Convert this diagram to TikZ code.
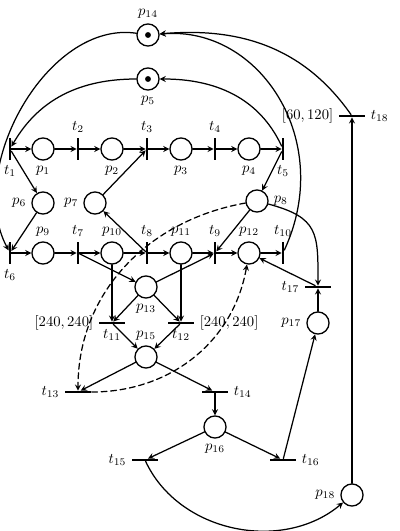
\documentclass[tikz,border=0pt]{standalone}
\usepackage{amsmath,amsfonts,amssymb}
\usepackage{tikz}

\begin{document}
\begin{tikzpicture}[x=0.024cm, y=0.024cm, >=stealth, line join=round, line cap=round,
	place/.style={circle, draw, line width=0.9pt, minimum size=0.53cm, inner sep=0pt},
	vbar/.style={rectangle, fill=black, minimum width=1.5pt, minimum height=0.53cm, inner sep=0pt},
	hbar/.style={rectangle, fill=black, minimum width=0.64cm, minimum height=1.5pt, inner sep=0pt},
	arc/.style={->, line width=0.85pt}]
	\useasboundingbox (0,0) rectangle (400,531);
	\node[place, label=above:$p_{14}$] (p14) at (148,496) {};
	\node[place, label=below:$p_5$] (p5) at (148,452) {};
	\fill (p14) circle (2pt);
	\fill (p5) circle (2pt);
	\node[vbar, label=below:$t_1$] (t1) at (10,382) {};
	\node[place, label=below:$p_1$] (p1) at (43,382) {};
	\node[vbar, label=above:$t_2$] (t2) at (78,382) {};
	\node[place, label=below:$p_2$] (p2) at (112,382) {};
	\node[vbar, label=above:$t_3$] (t3) at (147,382) {};
	\node[place, label=below:$p_3$] (p3) at (181,382) {};
	\node[vbar, label=above:$t_4$] (t4) at (215,382) {};
	\node[place, label=below:$p_4$] (p4) at (249,382) {};
	\node[vbar, label=below:$t_5$] (t5) at (283,382) {};
	\node[place, label=left:$p_6$] (p6) at (43,328) {};
	\node[place, label=left:$p_7$] (p7) at (95,328) {};
	\node[place, label=right:$p_8$] (p8) at (257,330) {};
	\node[vbar, label=below:$t_6$] (t6) at (10,278) {};
	\node[place, label=above:$p_9$] (p9) at (43,278) {};
	\node[vbar, label=above:$t_7$] (t7) at (78,278) {};
	\node[place, label=above:$p_{10}$] (p10) at (112,278) {};
	\node[vbar, label=above:$t_8$] (t8) at (147,278) {};
	\node[place, label=above:$p_{11}$] (p11) at (181,278) {};
	\node[vbar, label=above:$t_9$] (t9) at (215,278) {};
	\node[place, label=above:$p_{12}$] (p12) at (249,278) {};
	\node[vbar, label=above:$t_{10}$] (t10) at (283,278) {};
	\node[place, label=below:$p_{13}$] (p13) at (146,244) {};
	\node[hbar, label=left:{$[240,240]$}, label=below:$t_{11}$] (t11) at (112,208) {};
	\node[hbar, label=right:{$[240,240]$}, label=below:$t_{12}$] (t12) at (181,208) {};
	\node[place, label=above:$p_{15}$] (p15) at (146,174) {};
	\node[hbar, label=left:$t_{13}$] (t13) at (78,139) {};
	\node[hbar, label=right:$t_{14}$] (t14) at (215,139) {};
	\node[place, label=below:$p_{16}$] (p16) at (215,104) {};
	\node[hbar, label=left:$t_{15}$] (t15) at (145,71) {};
	\node[hbar, label=right:$t_{16}$] (t16) at (283,71) {};
	\node[place, label=left:$p_{17}$] (p17) at (318,208) {};
	\node[hbar, label=left:$t_{17}$] (t17) at (318,244) {};
	\node[place, label=left:$p_{18}$] (p18) at (352,36) {};
	\node[hbar, label=left:{$[60,120]$}, label=right:$t_{18}$] (t18) at (352,415) {};
	\foreach \a/\b in {t1/p1,p1/t2,t2/p2,p2/t3,t3/p3,p3/t4,t4/p4,p4/t5,
		t1/p6,p6/t6,t6/p9,p9/t7,t7/p10,p10/t8,t8/p11,p11/t9,t9/p12,p12/t10,
		p7/t3,t8/p7,t5/p8,p8/t9,t7/p13,p13/t9,p10/t11,p11/t12,p13/t11,p13/t12,
		t11/p15,t12/p15,p15/t13,p15/t14,t14/p16,p16/t15,p16/t16,t16/p17,
		p17/t17,t17/p12,p18/t18}
		\draw[arc] (\a) -- (\b);
	\draw[arc] (p14) .. controls +(-100,15) and +(-45,85) .. (t6);
	\draw[arc] (p5) to[out=180, in=60] (t1);
	\draw[arc] (t5) to[out=115, in=0] (p5);
	\draw[arc] (t10) .. controls +(52,112) and +(112,9) .. (p14);
	\draw[arc] (t18) to[out=125, in=5] (p14);
	\draw[arc] (p8) to[out=-15, in=90, looseness=1.4] (t17);
	\draw[arc] (t15) to[out=-65, in=-140] (p18);
	\draw[arc, dash pattern=on 4pt off 2.5pt] (p8) to[out=190, in=90] (t13);
	\draw[arc, dash pattern=on 4pt off 2.5pt] (t13) to[out=0, in=-100] (p12);
\end{tikzpicture}
\end{document}
